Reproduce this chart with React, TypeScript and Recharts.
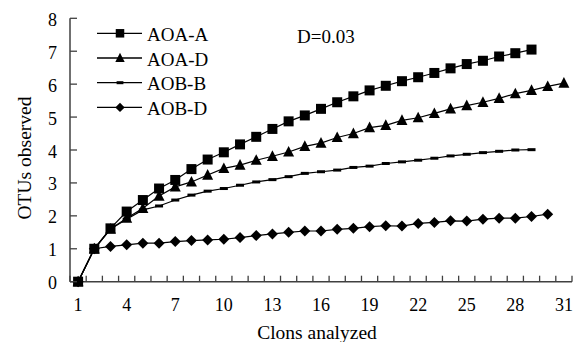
import React from 'react';
import { LineChart, Line, XAxis, YAxis, Legend } from 'recharts';

const CLONES = [1, 2, 3, 4, 5, 6, 7, 8, 9, 10, 11, 12, 13, 14, 15, 16, 17, 18, 19, 20, 21, 22, 23, 24, 25, 26, 27, 28, 29, 30, 31];
const AOA_A = [0, 1, 1.62, 2.13, 2.48, 2.83, 3.09, 3.42, 3.71, 3.93, 4.17, 4.4, 4.64, 4.87, 5.05, 5.25, 5.45, 5.63, 5.81, 5.95, 6.09, 6.21, 6.34, 6.48, 6.61, 6.71, 6.84, 6.94, 7.05];
const AOA_D = [0, 1, 1.6, 1.93, 2.23, 2.6, 2.88, 3.03, 3.24, 3.44, 3.54, 3.69, 3.81, 3.94, 4.11, 4.21, 4.38, 4.5, 4.68, 4.75, 4.9, 4.98, 5.11, 5.25, 5.35, 5.45, 5.57, 5.71, 5.81, 5.93, 6.03];
const AOB_B = [0, 1, 1.6, 1.9, 2.18, 2.3, 2.48, 2.63, 2.75, 2.83, 2.93, 3.03, 3.1, 3.19, 3.29, 3.34, 3.39, 3.47, 3.51, 3.59, 3.64, 3.69, 3.75, 3.82, 3.87, 3.92, 3.96, 4.0, 4.01];
const AOB_D = [0, 1, 1.07, 1.12, 1.17, 1.17, 1.22, 1.25, 1.27, 1.29, 1.34, 1.4, 1.45, 1.5, 1.54, 1.54, 1.59, 1.62, 1.67, 1.7, 1.69, 1.77, 1.8, 1.85, 1.84, 1.9, 1.93, 1.93, 1.98, 2.05];

const X_TICK_LABELS = [1, 4, 7, 10, 13, 16, 19, 22, 25, 28, 31];
const X_TICK_MARKS = [0.5, 1.5, 2.5, 3.5, 4.5, 5.5, 6.5, 7.5, 8.5, 9.5, 10.5, 11.5, 12.5, 13.5, 14.5, 15.5, 16.5, 17.5, 18.5, 19.5, 20.5, 21.5, 22.5, 23.5, 24.5, 25.5, 26.5, 27.5, 28.5, 29.5, 30.5, 31.5];
const Y_TICKS = [0, 1, 2, 3, 4, 5, 6, 7, 8];

const SERIES = [
  { key: 'aoaA', name: 'AOA-A', marker: 'square' },
  { key: 'aoaD', name: 'AOA-D', marker: 'triangle' },
  { key: 'aobB', name: 'AOB-B', marker: 'dash' },
  { key: 'aobD', name: 'AOB-D', marker: 'diamond' },
];

const data = CLONES.map((c, i) => ({
  clones: c,
  aoaA: AOA_A[i] ?? null,
  aoaD: AOA_D[i] ?? null,
  aobB: AOB_B[i] ?? null,
  aobD: AOB_D[i] ?? null,
}));

const FONT = '"Liberation Serif", "Times New Roman", serif';
const AXIS_COLOR = '#404040';

function Marker({ type, cx, cy, scale = 1 }: { type: string; cx: number; cy: number; scale?: number }) {
  if (cx == null || cy == null || isNaN(cx) || isNaN(cy)) return null;
  if (type === 'square') {
    const s = 10 * scale;
    return <rect x={cx - s / 2} y={cy - s / 2} width={s} height={s} fill="#000" />;
  }
  if (type === 'triangle') {
    const s = 11 * scale;
    return (
      <polygon
        points={`${cx},${cy - s * 0.55} ${cx + s / 2},${cy + s * 0.42} ${cx - s / 2},${cy + s * 0.42}`}
        fill="#000"
      />
    );
  }
  if (type === 'diamond') {
    const r = 5.5 * scale;
    return <polygon points={`${cx},${cy - r} ${cx + r},${cy} ${cx},${cy + r} ${cx - r},${cy}`} fill="#000" />;
  }
  const w = 8 * scale;
  return <rect x={cx - w / 2} y={cy - 1.5} width={w} height={3} fill="#000" />;
}

const makeDot = (type: string) => (props: any) => (
  <Marker key={`${type}-${props.index}`} type={type} cx={props.cx} cy={props.cy} />
);

function XTick(props: any) {
  const { x, y, payload } = props;
  const v = payload.value;
  if (v % 1 !== 0) {
    return <line x1={x} x2={x} y1={y} y2={y - 6} stroke={AXIS_COLOR} strokeWidth={1.3} />;
  }
  if (!X_TICK_LABELS.includes(v)) return null;
  return (
    <text x={x} y={y + 17} dy="0.71em" textAnchor="middle" fontFamily={FONT} fontSize={18} fill="#000">
      {v}
    </text>
  );
}

function YTick(props: any) {
  const { x, y, payload } = props;
  return (
    <g>
      <line x1={x} x2={x + 7} y1={y} y2={y} stroke={AXIS_COLOR} strokeWidth={1.3} />
      <text x={x - 13} y={y} dy="0.42em" textAnchor="end" fontFamily={FONT} fontSize={18} fill="#000">
        {payload.value}
      </text>
    </g>
  );
}

function YTitle(props: any) {
  const vb = props.viewBox || {};
  const cx = vb.x + 24;
  const cy = 158;
  return (
    <text
      x={cx}
      y={cy}
      dy="0.35em"
      transform={`rotate(-90 ${cx} ${cy})`}
      textAnchor="middle"
      fontFamily={FONT}
      fontSize={19.5}
      fill="#000"
    >
      OTUs observed
    </text>
  );
}

function XTitle(props: any) {
  const vb = props.viewBox || {};
  const cx = vb.x + vb.width / 2 - 4;
  const cy = vb.y + 57.5;
  return (
    <text x={cx} y={cy} textAnchor="middle" fontFamily={FONT} fontSize={19.5} fill="#000">
      Clons analyzed
    </text>
  );
}

function LegendContent(props: any) {
  const payload = props.payload || [];
  return (
    <svg width={280} height={100} style={{ overflow: 'visible', display: 'block' }}>
      {payload.map((p: any, i: number) => {
        const s = SERIES.find((d) => d.key === p.dataKey) || SERIES[i];
        const y = 12.3 + i * 24.7;
        return (
          <g key={s.key}>
            <line x1={2} x2={47} y1={y} y2={y} stroke="#000" strokeWidth={1.3} />
            <Marker type={s.marker} cx={25} cy={y} scale={0.85} />
            <text x={52} y={y} dy="0.4em" fontFamily={FONT} fontSize={19} fill="#000">
              {s.name}
            </text>
          </g>
        );
      })}
      <text x={202} y={14.7} dy="0.4em" fontFamily={FONT} fontSize={19} fill="#000">
        D=0.03
      </text>
    </svg>
  );
}

export default function App() {
  return (
    <div style={{ position: 'absolute', left: 0, top: 0, width: 575, height: 342, background: '#fff' }}>
      <LineChart width={575} height={342} data={data} margin={{ top: 18.3, right: 3, bottom: 0, left: 0 }}>
        <XAxis
          dataKey="clones"
          type="number"
          domain={[0.5, 31.5]}
          ticks={[...X_TICK_MARKS, ...X_TICK_LABELS]}
          interval={0}
          height={60.3}
          tickSize={0}
          tickMargin={0}
          tickLine={false}
          tick={<XTick />}
          axisLine={{ stroke: AXIS_COLOR, strokeWidth: 1.5 }}
          label={<XTitle />}
        />
        <YAxis
          type="number"
          domain={[0, 8]}
          ticks={Y_TICKS}
          interval={0}
          width={70}
          tickSize={0}
          tickMargin={0}
          tickLine={false}
          tick={<YTick />}
          axisLine={{ stroke: AXIS_COLOR, strokeWidth: 1.5 }}
          label={<YTitle />}
        />
        <Legend
          layout="horizontal"
          verticalAlign="middle"
          align="center"
          content={<LegendContent />}
          wrapperStyle={{ position: 'absolute', left: 95, top: 21, width: 280, height: 100 }}
        />
        {SERIES.map((s) => (
          <Line
            key={s.key}
            type="linear"
            dataKey={s.key}
            name={s.name}
            stroke="#000"
            strokeWidth={1.2}
            dot={makeDot(s.marker)}
            activeDot={false}
            isAnimationActive={false}
          />
        ))}
      </LineChart>
    </div>
  );
}
